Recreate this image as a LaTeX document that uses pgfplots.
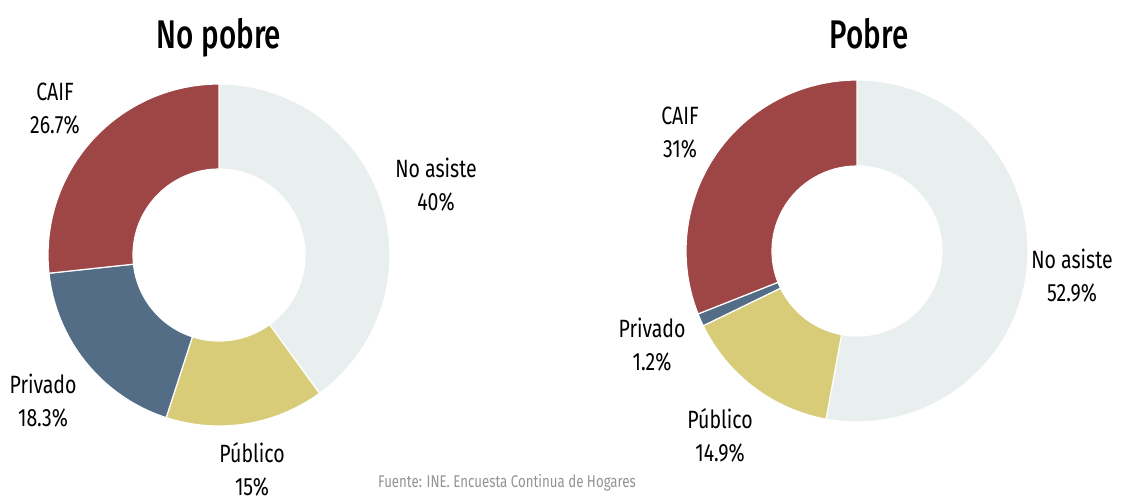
\documentclass[border=0pt]{standalone}
\usepackage{pgfplots}
\pgfplotsset{compat=1.18}
\usepackage{pgfplotstable}
\usepackage{fontspec}
\setmainfont{Fira Sans}[FakeStretch=0.78]
\newfontfamily\titlefont{Fira Sans Medium}[FakeStretch=0.74]
\usetikzlibrary{calc}

\definecolor{c0}{HTML}{E9EFEE}
\definecolor{c1}{HTML}{D8CC78}
\definecolor{c2}{HTML}{546D86}
\definecolor{c3}{HTML}{9E4545}
\definecolor{txt}{HTML}{1E1E1E}

\pgfplotstableread{
cat value
NoAsiste 40
Publico 15
Privado 18.3
CAIF 26.7
}\nopobre
\pgfplotstableread{
cat value
NoAsiste 52.9
Publico 14.9
Privado 1.2
CAIF 31
}\pobre

% cumulative angles (clockwise from 12 o'clock)
\newcommand\setangles[2]{%
  \pgfmathsetmacro\cum{90}%
  \pgfplotsforeachungrouped \i in {0,1,2,3}{%
    \pgfplotstablegetelem{\i}{value}\of#1%
    \expandafter\xdef\csname #2s\i\endcsname{\cum}%
    \pgfmathsetmacro\cum{\cum-3.6*\pgfplotsretval}%
    \expandafter\xdef\csname #2e\i\endcsname{\cum}%
  }%
}
\setangles{\nopobre}{L}
\setangles{\pobre}{R}

\begin{document}
\begin{tikzpicture}
\useasboundingbox (0,0) rectangle (560.5pt,250pt);
\begin{axis}[
  at={(0,0)}, anchor=south west,
  x=0.5pt, y=0.5pt,
  xmin=0, xmax=1121, ymin=0, ymax=500,
  hide axis, clip=false,
  every node/.style={text=txt},
]
% left donut
\pgfplotsinvokeforeach{0,1,2,3}{
  \fill[c#1, draw=white, line width=0.6pt]
    ($(axis cs:219,245)+(\csname Ls#1\endcsname:85.5pt)$)
    arc[start angle=\csname Ls#1\endcsname, end angle=\csname Le#1\endcsname, radius=85.5pt]
    -- ($(axis cs:219,245)+(\csname Le#1\endcsname:43pt)$)
    arc[start angle=\csname Le#1\endcsname, end angle=\csname Ls#1\endcsname, radius=43pt]
    -- cycle;
}
% right donut
\pgfplotsinvokeforeach{0,1,2,3}{
  \fill[c#1, draw=white, line width=0.6pt]
    ($(axis cs:857,249)+(\csname Rs#1\endcsname:85.5pt)$)
    arc[start angle=\csname Rs#1\endcsname, end angle=\csname Re#1\endcsname, radius=85.5pt]
    -- ($(axis cs:857,249)+(\csname Re#1\endcsname:42.5pt)$)
    arc[start angle=\csname Re#1\endcsname, end angle=\csname Rs#1\endcsname, radius=42.5pt]
    -- cycle;
}
% titles
\node[anchor=base, font=\fontsize{20}{24}\selectfont\titlefont] at (axis cs:219,452) {No pobre};
\node[anchor=base, font=\fontsize{20}{24}\selectfont\titlefont] at (axis cs:869,452) {Pobre};
% labels
\tikzset{lab/.style={align=center, font=\fontsize{12.5}{16.5}\selectfont}}
\node[lab] at (axis cs:55,391) {CAIF\\26.7\%};
\node[lab] at (axis cs:436,315) {No asiste\\40\%};
\node[lab] at (axis cs:43,99) {Privado\\18.3\%};
\node[lab] at (axis cs:252,31) {Público\\15\%};
\node[lab] at (axis cs:680,367) {CAIF\\31\%};
\node[lab] at (axis cs:1072,224) {No asiste\\52.9\%};
\node[lab] at (axis cs:652,155) {Privado\\1.2\%};
\node[lab] at (axis cs:720,65) {Público\\14.9\%};
% source
\node[anchor=base, font=\fontsize{8.5}{10}\selectfont, text=gray!85] at (axis cs:507,13) {Fuente: INE. Encuesta Continua de Hogares};
\end{axis}
\end{tikzpicture}
\end{document}
